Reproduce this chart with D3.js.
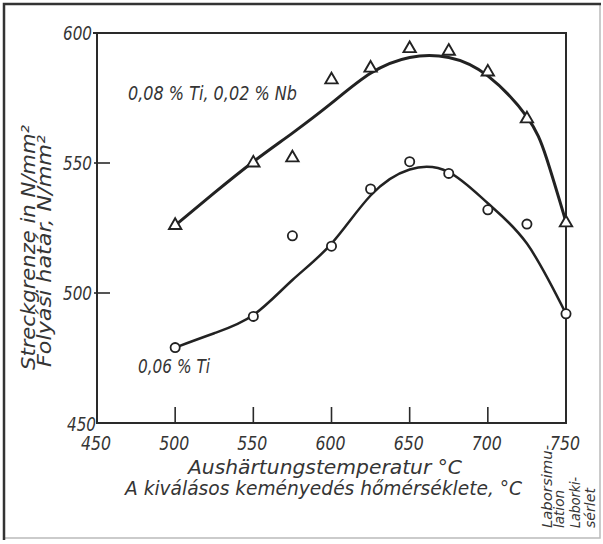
<!DOCTYPE html>
<html>
<head>
<meta charset="utf-8">
<script src="https://cdn.jsdelivr.net/npm/d3@7"></script>
<style>
  body { margin: 0; background: #fff; }
  svg text { font-family: "DejaVu Sans Condensed", "DejaVu Sans", sans-serif; font-style: italic; fill: #353535; }
</style>
</head>
<body>
<div id="chart"></div>
<script>
// measured points
const temps = [500, 550, 575, 600, 625, 650, 675, 700, 725, 750];
const tiNb = [526, 550, 552, 582, 586.5, 594, 593, 585, 567, 527];
const tiOnly = [479, 491, 522, 518, 540, 550.5, 546, 532, 526.5, 492];

// hand drawn fit curves
const upperCurveT = [500, 525, 550, 575, 600, 625, 650, 675, 700, 725, 737.5, 750];
const upperCurveV = [526, 538.5, 550.5, 561.5, 573, 584.5, 590.6, 590.6, 583.5, 567.7, 551.9, 527.3];
const lowerCurveT = [500, 525, 550, 575, 600, 625, 650, 675, 700, 725, 750];
const lowerCurveV = [479, 484.5, 491.5, 505, 519, 537.5, 547.5, 546.5, 534.5, 519, 492];

const xTicks = [450, 500, 550, 600, 650, 700, 750];
const yTicks = [450, 500, 550, 600];

const upperLabel = "0,08 % Ti, 0,02 % Nb";
const lowerLabel = "0,06 % Ti";
const xTitle = ["Aushärtungstemperatur °C", "A kiválásos keményedés hőmérséklete, °C"];
const yTitle = ["Streckgrenze in N/mm²", "Folyási határ, N/mm²"];
const sideNotes = ["Laborsimu-", "lation", "Laborki-", "sérlet"];

(function(){
  const W = 603, H = 544;
  const svg = d3.select("#chart").append("svg").attr("width", W).attr("height", H);
  svg.append("rect").attr("width", W).attr("height", H).attr("fill", "#fff");

  // outer border (scan: dark left/top, faint right/bottom)
  svg.append("path").attr("d", "M600,4 L600,538 L4,538").attr("fill", "none").attr("stroke", "#bbb").attr("stroke-width", 1.5);
  svg.append("path").attr("d", "M4,540 L4,4 L601,4").attr("fill", "none").attr("stroke", "#333").attr("stroke-width", 2.5);

  const x = d3.scaleLinear().domain([450, 750]).range([97, 566]);
  const y = d3.scaleLinear().domain([450, 600]).range([423, 33]);

  const g = svg.append("g");

  // frame
  g.append("path")
    .attr("d", `M${x(450)},${y(600)} L${x(750)},${y(600)} L${x(750)},${y(450)} L${x(450)},${y(450)} Z`)
    .attr("fill", "none").attr("stroke", "#2a2a2a").attr("stroke-width", 2);
  g.append("line").attr("x1", x(450) - 4).attr("x2", x(450)).attr("y1", y(600)).attr("y2", y(600))
    .attr("stroke", "#2a2a2a").attr("stroke-width", 2);

  // inward ticks
  xTicks.filter(t => t > 450 && t < 750).forEach(t => {
    g.append("line").attr("x1", x(t)).attr("x2", x(t)).attr("y1", y(450)).attr("y2", y(450) - 16)
      .attr("stroke", "#2a2a2a").attr("stroke-width", 1.6);
  });
  yTicks.filter(t => t > 450 && t < 600).forEach(t => {
    g.append("line").attr("x1", x(450) - 3).attr("x2", x(450) + 13).attr("y1", y(t)).attr("y2", y(t))
      .attr("stroke", "#2a2a2a").attr("stroke-width", 1.6);
  });

  // tick labels
  xTicks.forEach(t => {
    g.append("text").attr("x", x(t) - 1).attr("y", 450).attr("text-anchor", "middle")
      .attr("font-size", 19).attr("textLength", 30).attr("lengthAdjust", "spacingAndGlyphs").text(t);
  });
  yTicks.forEach(t => {
    g.append("text").attr("x", t === 450 ? 96 : 92).attr("y", y(t) + (t === 450 ? 1 : 0)).attr("dy", "0.36em")
      .attr("text-anchor", "end").attr("font-size", 19)
      .attr("textLength", 29).attr("lengthAdjust", "spacingAndGlyphs").text(t);
  });

  // axis titles
  g.append("text").attr("x", 188).attr("y", 474).attr("font-size", 19)
    .attr("textLength", 274).attr("lengthAdjust", "spacingAndGlyphs").text(xTitle[0]);
  g.append("text").attr("x", 125).attr("y", 495).attr("font-size", 19)
    .attr("textLength", 397).attr("lengthAdjust", "spacingAndGlyphs").text(xTitle[1]);

  [[35, 370, 245], [51, 367, 232]].forEach((p, i) => {
    g.append("text").attr("transform", `translate(${p[0]},${p[1]}) rotate(-90)`)
      .attr("font-size", 19).attr("textLength", p[2]).attr("lengthAdjust", "spacingAndGlyphs").text(yTitle[i]);
  });

  // side notes on the right, rotated
  [[552, 83], [564, 38], [580, 51], [595, 40]].forEach((p, i) => {
    g.append("text").attr("transform", `translate(${p[0]},528) rotate(-90)`)
      .attr("font-size", 14).attr("textLength", p[1]).attr("lengthAdjust", "spacingAndGlyphs").text(sideNotes[i]);
  });

  // curves
  const line = d3.line().x(d => x(d[0])).y(d => y(d[1])).curve(d3.curveNatural);
  g.append("path").datum(d3.zip(upperCurveT, upperCurveV)).attr("d", line)
    .attr("fill", "none").attr("stroke", "#222").attr("stroke-width", 3);
  g.append("path").datum(d3.zip(lowerCurveT, lowerCurveV)).attr("d", line)
    .attr("fill", "none").attr("stroke", "#222").attr("stroke-width", 2.5);

  // markers
  const tri = d3.symbol().type(d3.symbolTriangle).size(66);
  temps.forEach((t, i) => {
    g.append("path").attr("d", tri).attr("transform", `translate(${x(t)},${y(tiNb[i])})`)
      .attr("fill", "#fff").attr("stroke", "#222").attr("stroke-width", 1.9);
    g.append("circle").attr("cx", x(t)).attr("cy", y(tiOnly[i])).attr("r", 4.6)
      .attr("fill", "#fff").attr("stroke", "#222").attr("stroke-width", 1.8);
  });

  // series labels
  g.append("text").attr("x", 128).attr("y", 100).attr("font-size", 20)
    .attr("textLength", 169).attr("lengthAdjust", "spacingAndGlyphs").text(upperLabel);
  g.append("text").attr("x", 138).attr("y", 373).attr("font-size", 19)
    .attr("textLength", 72).attr("lengthAdjust", "spacingAndGlyphs").text(lowerLabel);
})();
</script>
</body>
</html>
